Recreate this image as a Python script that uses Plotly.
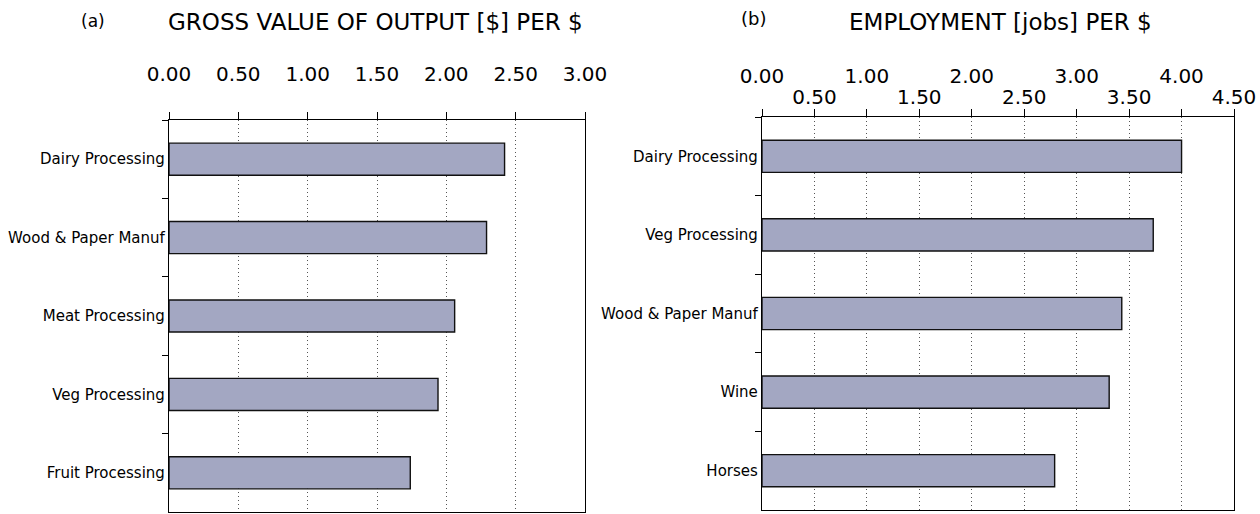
import plotly.graph_objects as go

# Panel (a): gross value of output per dollar
output_sectors = ["Dairy Processing", "Wood & Paper Manuf", "Meat Processing",
                  "Veg Processing", "Fruit Processing"]
output_values = [2.42, 2.29, 2.06, 1.94, 1.74]
output_ticks = [0, 0.5, 1.0, 1.5, 2.0, 2.5, 3.0]
output_ticktext = ["0.00", "0.50", "1.00", "1.50", "2.00", "2.50", "3.00"]

# Panel (b): employment per dollar
jobs_sectors = ["Dairy Processing", "Veg Processing", "Wood & Paper Manuf",
                "Wine", "Horses"]
jobs_values = [4.00, 3.73, 3.43, 3.31, 2.79]
jobs_ticks = [0, 0.5, 1.0, 1.5, 2.0, 2.5, 3.0, 3.5, 4.0, 4.5]
jobs_ticktext = ["0.00", "0.50", "1.00", "1.50", "2.00", "2.50", "3.00",
                 "3.50", "4.00", "4.50"]

FONT = "DejaVu Sans"
BAR_FILL = "#a3a7c2"
BAR_EDGE = "#111111"

W, H = 1260, 514

fig = go.Figure()

fig.add_trace(go.Bar(
    x=output_values, y=output_sectors, orientation="h",
    xaxis="x", yaxis="y", width=0.41,
    marker=dict(color=BAR_FILL, line=dict(color=BAR_EDGE, width=1.4)),
    hoverinfo="x+y", showlegend=False,
))
fig.add_trace(go.Bar(
    x=jobs_values, y=jobs_sectors, orientation="h",
    xaxis="x2", yaxis="y2", width=0.41,
    marker=dict(color=BAR_FILL, line=dict(color=BAR_EDGE, width=1.4)),
    hoverinfo="x+y", showlegend=False,
))

# Invisible trace to carry the staggered lower row of tick labels in panel (b)
fig.add_trace(go.Scatter(x=[0, 4.5], y=[jobs_sectors[0], jobs_sectors[0]],
                         xaxis="x3", yaxis="y2", mode="markers",
                         marker=dict(opacity=0), hoverinfo="skip",
                         showlegend=False))

common_x = dict(
    side="top", showline=True, linecolor="black", linewidth=1.3, mirror=True,
    ticks="outside", ticklen=7, tickcolor="black", tickwidth=1.2,
    showgrid=True, gridcolor="#555555", gridwidth=1, griddash="1px,3px",
    zeroline=False, tickfont=dict(family=FONT, size=20, color="black"),
    fixedrange=True, automargin=False,
)
common_y = dict(
    type="category", autorange="reversed",
    showline=True, linecolor="black", linewidth=1.3, mirror=True,
    ticks="outside", ticklen=6, tickcolor="black", tickson="boundaries",
    showgrid=False, zeroline=False,
    tickfont=dict(family=FONT, size=15, color="black"),
    fixedrange=True, automargin=False,
)

upper_text = [t if i % 2 == 0 else "" for i, t in enumerate(jobs_ticktext)]
lower_vals = [v for i, v in enumerate(jobs_ticks) if i % 2 == 1]
lower_text = [t for i, t in enumerate(jobs_ticktext) if i % 2 == 1]

fig.update_layout(
    width=W, height=H,
    margin=dict(l=0, r=0, t=0, b=0, autoexpand=False),
    paper_bgcolor="white", plot_bgcolor="white",
    bargap=0.5,
    xaxis=dict(common_x, domain=[169 / W, 585 / W], range=[0, 3],
               tickvals=output_ticks, ticktext=output_ticktext,
               anchor="y", ticklabelstandoff=23),
    yaxis=dict(common_y, domain=[(H - 512) / H, (H - 120) / H], anchor="x"),
    xaxis2=dict(common_x, domain=[762 / W, 1234 / W], range=[0, 4.5],
                tickvals=jobs_ticks, ticktext=upper_text,
                anchor="y2", ticklabelstandoff=18),
    xaxis3=dict(overlaying="x2", side="top", anchor="y2", range=[0, 4.5],
                tickvals=lower_vals, ticktext=lower_text, ticks="",
                showgrid=False, showline=False, zeroline=False,
                ticklabelstandoff=8, fixedrange=True, automargin=False,
                tickfont=dict(family=FONT, size=20, color="black")),
    yaxis2=dict(common_y, domain=[(H - 510) / H, (H - 117) / H], anchor="x2"),
    annotations=[
        dict(text="(a)", x=93 / W, y=1 - 21 / H, xref="paper", yref="paper",
             showarrow=False, xanchor="center", yanchor="middle",
             font=dict(family=FONT, size=17, color="black")),
        dict(text="GROSS VALUE OF OUTPUT [$] PER $", x=375 / W, y=1 - 22 / H,
             xref="paper", yref="paper", showarrow=False,
             xanchor="center", yanchor="middle",
             font=dict(family=FONT, size=23, color="black")),
        dict(text="(b)", x=753 / W, y=1 - 18.5 / H, xref="paper", yref="paper",
             showarrow=False, xanchor="center", yanchor="middle",
             font=dict(family=FONT, size=18, color="black")),
        dict(text="EMPLOYMENT [jobs] PER $", x=1000 / W, y=1 - 22 / H,
             xref="paper", yref="paper", showarrow=False,
             xanchor="center", yanchor="middle",
             font=dict(family=FONT, size=23, color="black")),
    ],
)

fig.write_html("out.html")
